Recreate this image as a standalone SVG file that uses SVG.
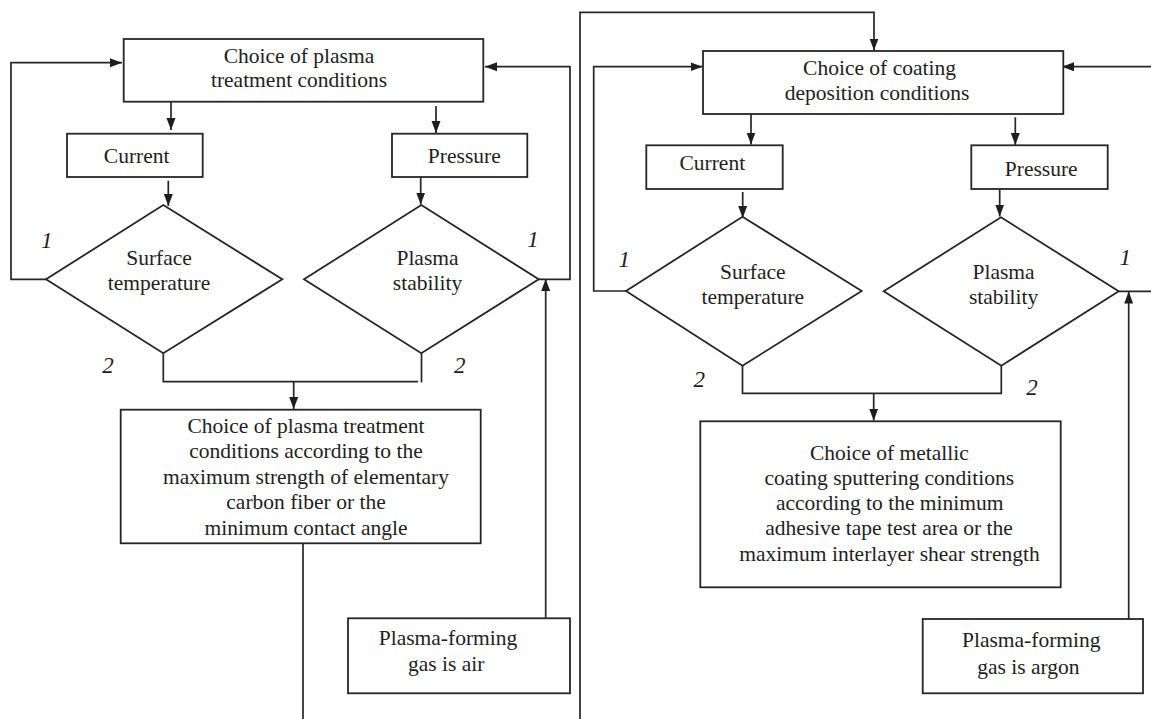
<svg xmlns="http://www.w3.org/2000/svg" width="1151" height="719" viewBox="0 0 1151 719">
<style>
.box{fill:#fff;stroke:#262626;stroke-width:1.8}
.ln{fill:none;stroke:#262626;stroke-width:1.7}
.t{font-family:"Liberation Serif","Times New Roman",serif;font-size:21.5px;fill:#1e1e1e;text-anchor:middle}
.lbl{font-family:"Liberation Serif","Times New Roman",serif;font-size:23px;font-style:italic;fill:#1e1e1e;text-anchor:middle}
</style>
<defs>
<marker id="ah" markerWidth="12" markerHeight="10" refX="12" refY="5" orient="auto" markerUnits="userSpaceOnUse"><path d="M0,0.5 L12,5 L0,9.5 z" fill="#1e1e1e"/></marker>
</defs>
<rect width="1151" height="719" fill="#fff"/>
<g id="connectors">
<path class="ln" d="M171,102 V130" marker-end="url(#ah)"/>
<path class="ln" d="M436,106 V133" marker-end="url(#ah)"/>
<path class="ln" d="M168.3,180.7 V206" marker-end="url(#ah)"/>
<path class="ln" d="M420.7,177 V204.5" marker-end="url(#ah)"/>
<path class="ln" d="M46,279.3 H11 V62.7 H122" marker-end="url(#ah)"/>
<path class="ln" d="M538.7,279.3 H570 V66.7 H485" marker-end="url(#ah)"/>
<path class="ln" d="M163.3,353.3 V381.7 H418"/>
<path class="ln" d="M421.5,353.3 V382.5"/>
<path class="ln" d="M293.7,381.7 V409" marker-end="url(#ah)"/>
<path class="ln" d="M303,543.3 V719"/>
<path class="ln" d="M545.7,618.3 V279" marker-end="url(#ah)"/>
<path class="ln" d="M580,719 V12.3 H874 V50.5" marker-end="url(#ah)"/>
<path class="ln" d="M751,114 V144.5" marker-end="url(#ah)"/>
<path class="ln" d="M1015.3,117.3 V145" marker-end="url(#ah)"/>
<path class="ln" d="M742.7,192 V218" marker-end="url(#ah)"/>
<path class="ln" d="M999.7,189 V216.5" marker-end="url(#ah)"/>
<path class="ln" d="M626,291 H593.7 V66.7 H702.5" marker-end="url(#ah)"/>
<path class="ln" d="M1118.7,291.3 H1151"/>
<path class="ln" d="M1151,66.7 H1062" marker-end="url(#ah)"/>
<path class="ln" d="M742.5,365.7 V393.3 H1001.3 V365.7"/>
<path class="ln" d="M873.7,393.3 V420.7" marker-end="url(#ah)"/>
<path class="ln" d="M1128.7,619 V291.5" marker-end="url(#ah)"/>
<text class="lbl" x="46.7" y="248">1</text>
<text class="lbl" x="533" y="247">1</text>
<text class="lbl" x="108" y="372.5">2</text>
<text class="lbl" x="459.7" y="373">2</text>
<text class="lbl" x="624.3" y="266.7">1</text>
<text class="lbl" x="1125.3" y="265">1</text>
<text class="lbl" x="699.3" y="387.3">2</text>
<text class="lbl" x="1032" y="395">2</text>
</g>
<g id="n1"><rect class="box" x="123.7" y="39" width="359.6" height="62.7"/><text class="t" x="299" y="62.7">Choice of plasma</text><text class="t" x="299" y="87.3">treatment conditions</text></g>
<g id="n2"><rect class="box" x="67" y="133.7" width="135.7" height="43.3"/><text class="t" x="136.7" y="163.3">Current</text></g>
<g id="n3"><rect class="box" x="392" y="133.7" width="135.3" height="43.3"/><text class="t" x="464.3" y="163.3">Pressure</text></g>
<g id="n4"><polygon class="box" points="163.3,205 282.3,279.3 163.3,353.3 46,279.3"/><text class="t" x="159" y="264.5">Surface</text><text class="t" x="159" y="289.5">temperature</text></g>
<g id="n5"><polygon class="box" points="421.3,205 538.7,279.3 421.3,353.3 304,279.3"/><text class="t" x="427.5" y="264.5">Plasma</text><text class="t" x="427.5" y="289.5">stability</text></g>
<g id="n6"><rect class="box" x="120.7" y="409.7" width="360" height="133.6"/>
<text class="t" x="306" y="433">Choice of plasma treatment</text>
<text class="t" x="306" y="458.3">conditions according to the</text>
<text class="t" x="306" y="483.5">maximum strength of elementary</text>
<text class="t" x="306" y="509">carbon fiber or the</text>
<text class="t" x="306" y="535">minimum contact angle</text></g>
<g id="n7"><rect class="box" x="348" y="618.3" width="222" height="75"/><text class="t" x="448" y="645">Plasma-forming</text><text class="t" x="446.3" y="670.7">gas is air</text></g>
<g id="n8"><rect class="box" x="703" y="51" width="360.3" height="63"/><text class="t" x="879.5" y="75">Choice of coating</text><text class="t" x="877" y="100">deposition conditions</text></g>
<g id="n9"><rect class="box" x="646.3" y="145.3" width="136.4" height="43.7"/><text class="t" x="712.3" y="170">Current</text></g>
<g id="n10"><rect class="box" x="971.3" y="145.3" width="136.4" height="43.7"/><text class="t" x="1041.2" y="175.5">Pressure</text></g>
<g id="n11"><polygon class="box" points="742.5,216.7 861.7,291 742.5,365.7 626,291"/><text class="t" x="752.8" y="279.3">Surface</text><text class="t" x="752.8" y="304.3">temperature</text></g>
<g id="n12"><polygon class="box" points="1001,217.3 1118.7,291.3 1001.3,365.7 883.7,291.3"/><text class="t" x="1003.6" y="279.3">Plasma</text><text class="t" x="1003.6" y="304.3">stability</text></g>
<g id="n13"><rect class="box" x="700.3" y="421.3" width="360.4" height="166"/>
<text class="t" x="889.3" y="459.5">Choice of metallic</text>
<text class="t" x="889.3" y="484.5">coating sputtering conditions</text>
<text class="t" x="889.7" y="510">according to the minimum</text>
<text class="t" x="889" y="535">adhesive tape test area or the</text>
<text class="t" x="889.5" y="561">maximum interlayer shear strength</text></g>
<g id="n14"><rect class="box" x="922.7" y="619" width="220.3" height="74.3"/><text class="t" x="1031.3" y="647.3">Plasma-forming</text><text class="t" x="1028.3" y="674">gas is argon</text></g>
</svg>
